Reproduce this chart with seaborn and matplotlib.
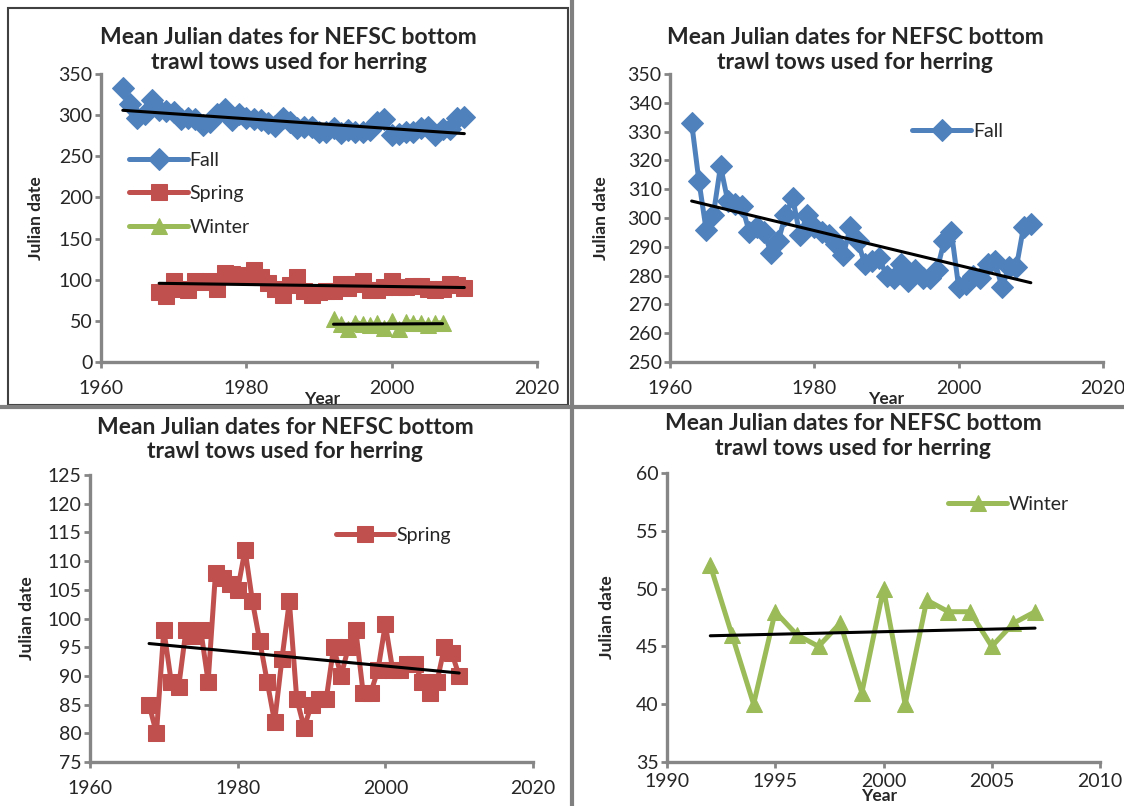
import seaborn as sns
import matplotlib.pyplot as plt
from matplotlib.patches import Rectangle
from matplotlib.lines import Line2D

# data
fall_years = list(range(1963, 2011))
fall_days = [333, 313, 296, 301, 318, 306, 305, 304, 295, 297,
             295, 288, 292, 301, 307, 294, 301, 297, 295, 294,
             291, 287, 297, 292, 284, 285, 286, 280, 279, 284,
             278, 282, 279, 279, 282, 292, 295, 276, 277, 280,
             279, 284, 285, 276, 283, 283, 297, 298]

spring_years = list(range(1968, 2011))
spring_days = [85, 80, 98, 89, 88, 98, 97, 98, 89, 108,
               107, 106, 105, 112, 103, 96, 89, 82, 93, 103,
               86, 81, 85, 86, 86, 95, 90, 95, 98, 87,
               87, 91, 99, 91, 91, 92, 92, 89, 87, 89,
               95, 94, 90]

winter_years = list(range(1992, 2008))
winter_days = [52, 46, 40, 48, 46, 45, 47, 41, 50, 40, 49, 48, 48, 45, 47, 48]

title = "Mean Julian dates for NEFSC bottom\ntrawl tows used for herring"
FALL_C, SPRING_C, WINTER_C = "#4F81BD", "#C0504D", "#9BBB59"
GRAY = "#868686"

sns.set_style("white")
plt.rcParams["font.family"] = ["Lato", "DejaVu Sans"]

W, H = 1124, 806
fig = plt.figure(figsize=(W / 100, H / 100), dpi=100)


def px_axes(left, top, right, bottom):
    return fig.add_axes([left / W, 1 - bottom / H, (right - left) / W, (bottom - top) / H])


def style(ax, xlim, ylim, xticks, yticks, title_x, title_y, year_x):
    ax.set_xlim(*xlim)
    ax.set_ylim(*ylim)
    ax.set_xticks(xticks)
    ax.set_yticks(yticks)
    for s in ["top", "right"]:
        ax.spines[s].set_visible(False)
    for s in ["left", "bottom"]:
        ax.spines[s].set_color(GRAY)
        ax.spines[s].set_linewidth(2.4)
    ax.tick_params(axis="both", direction="out", length=4, width=2, color=GRAY,
                   labelsize=14, bottom=True, left=True)
    ax.tick_params(axis="x", pad=9)
    ax.tick_params(axis="y", pad=2)
    ax.set_ylabel("Julian date", fontsize=12.5, fontweight="bold")
    ax.set_xlabel("Year", fontsize=12.5, fontweight="bold")
    ax.xaxis.set_label_coords(year_x, -0.1)
    ax.set_title(title, fontsize=16.5, fontweight="bold", x=title_x, y=title_y,
                 linespacing=1.2, ha="center")


def series(ax, x, y, color, marker, label, ms):
    sns.lineplot(x=x, y=y, ax=ax, color=color, marker=marker, markersize=ms,
                 markeredgecolor=color, linewidth=3.6, label=label)
    sns.regplot(x=x, y=y, ax=ax, scatter=False, ci=None, truncate=True,
                line_kws={"color": "black", "linewidth": 2.2})


leg_kw = dict(frameon=False, fontsize=14, handlelength=3.0, handletextpad=0.1,
              borderaxespad=0, borderpad=0)

# top left: all three seasons
ax1 = px_axes(101, 74, 537, 362)
series(ax1, fall_years, fall_days, FALL_C, "D", "Fall", 11)
series(ax1, spring_years, spring_days, SPRING_C, "s", "Spring", 11)
series(ax1, winter_years, winter_days, WINTER_C, "^", "Winter", 11)
style(ax1, (1960, 2020), (0, 350), [1960, 1980, 2000, 2020], range(0, 351, 50),
      0.43, 0.99, 0.507)
ax1.legend(loc="upper left", bbox_to_anchor=(0.065, 0.73), labelspacing=0.85, **leg_kw)
ax1.yaxis.set_label_coords(-0.13, 0.5)

# top right: fall
ax2 = px_axes(670, 74, 1103, 362)
series(ax2, fall_years, fall_days, FALL_C, "D", "Fall", 11)
style(ax2, (1960, 2020), (250, 350), [1960, 1980, 2000, 2020], range(250, 351, 10),
      0.427, 0.99, 0.5)
ax2.legend(loc="upper left", bbox_to_anchor=(0.56, 0.83), **leg_kw)
ax2.yaxis.set_label_coords(-0.14, 0.5)

# bottom left: spring
ax3 = px_axes(90, 475, 533, 762)
series(ax3, spring_years, spring_days, SPRING_C, "s", "Spring", 11)
style(ax3, (1960, 2020), (75, 125), [1960, 1980, 2000, 2020], range(75, 126, 5),
      0.44, 1.03, 0.5)
ax3.set_xlabel("")
ax3.legend(loc="upper left", bbox_to_anchor=(0.555, 0.82), **leg_kw)
ax3.yaxis.set_label_coords(-0.125, 0.5)

# bottom right: winter
ax4 = px_axes(667, 473, 1100, 762)
series(ax4, winter_years, winter_days, WINTER_C, "^", "Winter", 12)
style(ax4, (1990, 2010), (35, 60), [1990, 1995, 2000, 2005, 2010], range(35, 61, 5),
      0.43, 1.035, 0.49)
ax4.tick_params(axis="x", pad=4)
ax4.legend(loc="upper left", bbox_to_anchor=(0.65, 0.92), **leg_kw)
ax4.yaxis.set_label_coords(-0.12, 0.5)
ax4.xaxis.set_label_coords(0.49, -0.09)

# spreadsheet chart frames
fig.patches.append(Rectangle((8 / W, 1 - 405 / H), 560 / W, 397 / H, transform=fig.transFigure,
                             fill=False, edgecolor="#404040", linewidth=1.5))
fig.lines.append(Line2D([572 / W, 572 / W], [0, 1], transform=fig.transFigure,
                        color="#808080", linewidth=3))
fig.lines.append(Line2D([0, 1], [1 - 407 / H, 1 - 407 / H], transform=fig.transFigure,
                        color="#808080", linewidth=3))

fig.savefig("out.png", dpi=100)
